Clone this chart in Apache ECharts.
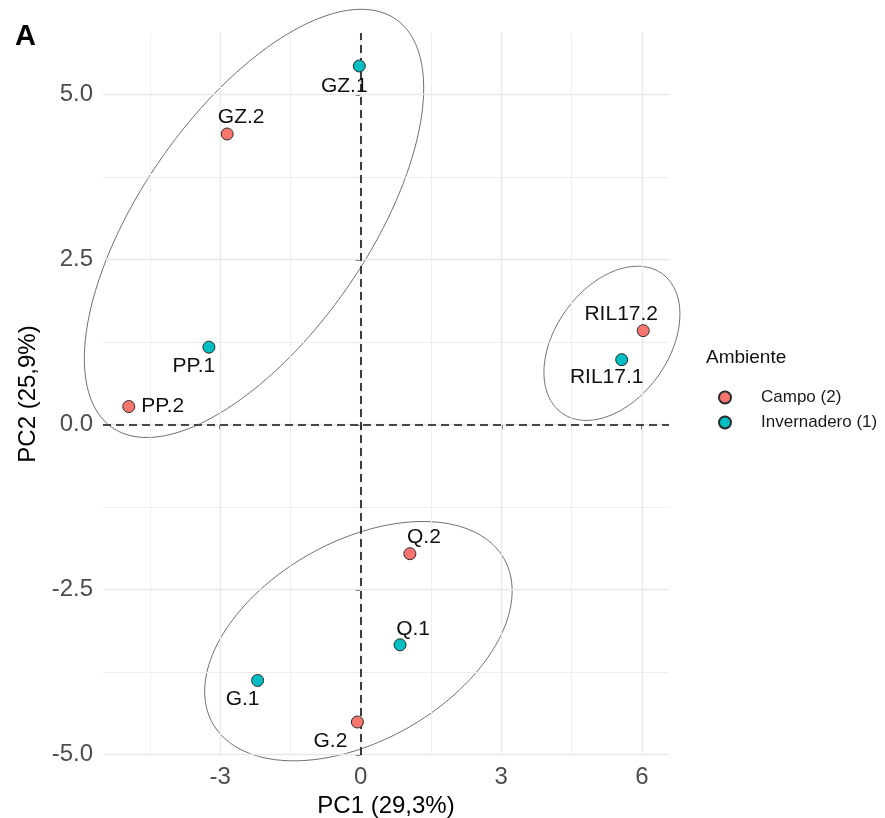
<!DOCTYPE html>
<html>
<head>
<meta charset="utf-8">
<script src="https://cdn.jsdelivr.net/npm/echarts@6/dist/echarts.min.js"></script>
<style>
html,body{margin:0;padding:0;background:#fff;}
#chart{width:885px;height:818px;}
</style>
</head>
<body>
<div id="chart"></div>
<script>
// ---- data ----
const names    = ['GZ.1','GZ.2','PP.1','PP.2','RIL17.2','RIL17.1','Q.2','Q.1','G.1','G.2'];
const pc1      = [-0.03, -2.85, -3.24, -4.95, 6.03, 5.57, 1.05, 0.84, -2.20, -0.07];
const pc2      = [ 5.43,  4.40,  1.17,  0.27, 1.42, 0.98, -1.96, -3.34, -3.88, -4.51];
const ambiente = ['Invernadero (1)','Campo (2)','Invernadero (1)','Campo (2)','Campo (2)',
                  'Invernadero (1)','Campo (2)','Invernadero (1)','Invernadero (1)','Campo (2)'];
const groups   = ['Campo (2)','Invernadero (1)'];

// axis ticks
const xTicks      = [-3, 0, 3, 6];
const xMinorGrid  = [-4.5, -1.5, 1.5, 4.5];
const yTicks      = [-5, -2.5, 0, 2.5, 5];
const yMinorGrid  = [-3.75, -1.25, 1.25, 3.75];

// ellipses: centre x, centre y, half-width, half-height, correlation
const ellipseTopLeft = [-2.277, 3.045, 3.621, 3.244, 0.632];
const ellipseRight   = [5.362, 1.228, 1.451, 1.168, 0.377];
const ellipseBottom  = [-0.049, -3.285, 3.281, 1.813, 0.42];

// ---- styles ----
const colors = {'Campo (2)': '#F8766D', 'Invernadero (1)': '#00BFC4'};
const labelOffsets = {
  'GZ.1':[-15,20], 'GZ.2':[14,-17], 'PP.1':[-15,19], 'PP.2':[34,0],
  'RIL17.2':[-22,-16], 'RIL17.1':[-15,18], 'Q.2':[14,-17], 'Q.1':[13,-16],
  'G.1':[-15,19], 'G.2':[-27,19]
};
const FONT = "'Liberation Sans', Arial, sans-serif";

function ellipsePath(p) {
  const [cx, cy, rx, ry, rho] = p;
  const out = [];
  const n = 240;
  const s = Math.sqrt(1 - rho * rho);
  for (let i = 0; i <= n; i++) {
    const t = 2 * Math.PI * i / n;
    out.push([cx + rx * Math.cos(t), cy + ry * (rho * Math.cos(t) + s * Math.sin(t))]);
  }
  return out;
}

const chart = echarts.init(document.getElementById('chart'), null, {renderer: 'canvas'});

const pointSeries = groups.map(g => ({
  name: g,
  type: 'scatter',
  z: 5,
  symbol: 'circle',
  symbolSize: 12,
  itemStyle: {color: colors[g], borderColor: '#2b2b2b', borderWidth: 1, opacity: 1},
  data: names.map((nm, i) => ({nm, i})).filter(o => ambiente[o.i] === g).map(o => ({
    value: [pc1[o.i], pc2[o.i]],
    name: o.nm,
    label: {
      show: true, position: 'inside', offset: labelOffsets[o.nm],
      formatter: o.nm, fontSize: 21, color: '#111', fontFamily: FONT
    }
  })),
  clip: false
}));

const ellipseSeries = {
  name: 'ellipses',
  type: 'lines',
  coordinateSystem: 'cartesian2d',
  polyline: true,
  z: 3,
  silent: true,
  clip: false,
  lineStyle: {color: '#5e5e5e', width: 0.9, opacity: 1, curveness: 0},
  data: [ellipseTopLeft, ellipseRight, ellipseBottom].map(p => ({coords: ellipsePath(p)}))
};

const gridSeries = {
  name: 'grid',
  type: 'scatter',
  z: 1,
  silent: true,
  data: [],
  markLine: {
    silent: true, symbol: 'none', animation: false,
    label: {show: false},
    data: [
      ...xTicks.map(v => ({xAxis: v, lineStyle: {color: '#e8e8e8', width: 1.3, type: 'solid'}})),
      ...xMinorGrid.map(v => ({xAxis: v, lineStyle: {color: '#eeeeee', width: 1, type: 'solid'}})),
      ...yTicks.map(v => ({yAxis: v, lineStyle: {color: '#e8e8e8', width: 1.3, type: 'solid'}})),
      ...yMinorGrid.map(v => ({yAxis: v, lineStyle: {color: '#eeeeee', width: 1, type: 'solid'}}))
    ]
  }
};

const zeroSeries = {
  name: 'zero',
  type: 'scatter',
  z: 8,
  silent: true,
  data: [],
  markLine: {
    silent: true, symbol: 'none', animation: false,
    label: {show: false},
    lineStyle: {color: '#111', width: 1.6, type: [8, 5]},
    data: [{xAxis: 0}, {yAxis: 0}]
  }
};

chart.setOption({
  animation: false,
  backgroundColor: '#ffffff',
  textStyle: {fontFamily: FONT},
  title: [
    {text: 'A', left: 10, top: 17, textStyle: {fontSize: 29, fontWeight: 'bold', color: '#000', fontFamily: FONT}},
    {text: 'Ambiente', left: 701, top: 343, textStyle: {fontSize: 19, fontWeight: 'normal', color: '#111', fontFamily: FONT}}
  ],
  legend: {
    data: groups,
    orient: 'vertical',
    left: 713, top: 384,
    itemWidth: 12, itemHeight: 12, itemGap: 8,
    icon: 'circle',
    textStyle: {fontSize: 17, color: '#1a1a1a', fontFamily: FONT, padding: [0, 0, 0, 25]}
  },
  grid: {left: 103, right: 216, top: 33, bottom: 63, containLabel: false, outerBoundsMode: 'none'},
  xAxis: {
    type: 'value', min: -5.50, max: 6.58,
    name: 'PC1 (29,3%)', nameLocation: 'middle', nameGap: 36,
    nameTextStyle: {fontSize: 24, color: '#000', fontFamily: FONT},
    axisLine: {show: false},
    splitLine: {show: false},
    axisTick: {show: true, customValues: xTicks, length: 5, lineStyle: {color: '#333', width: 1.5}},
    axisLabel: {customValues: xTicks, fontSize: 24, color: '#4d4d4d', margin: 10, fontFamily: FONT,
                formatter: v => String(v)}
  },
  yAxis: {
    type: 'value', min: -5.01, max: 5.93,
    name: 'PC2 (25,9%)', nameLocation: 'middle', nameGap: 60, nameRotate: 90,
    nameTextStyle: {fontSize: 24, color: '#000', fontFamily: FONT},
    axisLine: {show: false},
    splitLine: {show: false},
    axisTick: {show: true, customValues: yTicks, length: 5, lineStyle: {color: '#333', width: 1.5}},
    axisLabel: {customValues: yTicks, fontSize: 24, color: '#4d4d4d', margin: 10, fontFamily: FONT,
                formatter: v => v.toFixed(1)}
  },
  series: [gridSeries, ellipseSeries, ...pointSeries, zeroSeries]
});
</script>
</body>
</html>
